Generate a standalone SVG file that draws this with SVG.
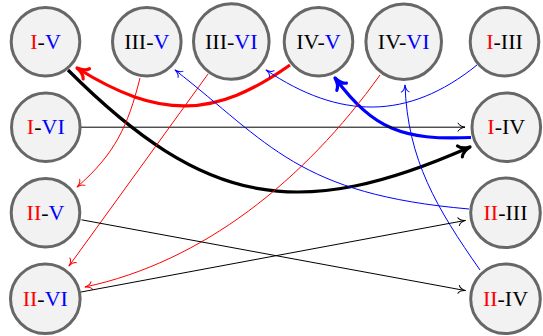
<svg xmlns="http://www.w3.org/2000/svg" width="543" height="336" viewBox="0 0 543 336">
<style>
.node circle{fill:#f2f2f2;stroke:#676767;stroke-width:3}
.node text{font-family:"Liberation Serif","Times New Roman",serif;font-size:22px;text-anchor:middle;fill:#000}
.r{fill:#ff0000}
.b{fill:#0000ff}
.c{fill:none}
.k1{stroke:#000;stroke-width:1}
.r1{stroke:#ff0000;stroke-width:1}
.b1{stroke:#0000ff;stroke-width:1}
.k3{stroke:#000;stroke-width:3.2}
.r3{stroke:#ff0000;stroke-width:3.2}
.b3{stroke:#0000ff;stroke-width:3.2}
</style>
<defs>
<marker id="ak1" markerUnits="userSpaceOnUse" orient="auto" overflow="visible" refX="0" refY="0" markerWidth="1" markerHeight="1"><path d="M-7,-4 C-6,-1.6 -2.2,-0.3 0,0 C-2.2,0.3 -6,1.6 -7,4" fill="none" stroke="#000" stroke-width="1" stroke-linecap="round" stroke-linejoin="round"/></marker>
<marker id="ar1" markerUnits="userSpaceOnUse" orient="auto" overflow="visible" refX="0" refY="0" markerWidth="1" markerHeight="1"><path d="M-7,-4 C-6,-1.6 -2.2,-0.3 0,0 C-2.2,0.3 -6,1.6 -7,4" fill="none" stroke="#ff0000" stroke-width="1" stroke-linecap="round" stroke-linejoin="round"/></marker>
<marker id="ab1" markerUnits="userSpaceOnUse" orient="auto" overflow="visible" refX="0" refY="0" markerWidth="1" markerHeight="1"><path d="M-7,-4 C-6,-1.6 -2.2,-0.3 0,0 C-2.2,0.3 -6,1.6 -7,4" fill="none" stroke="#0000ff" stroke-width="1" stroke-linecap="round" stroke-linejoin="round"/></marker>
<marker id="ak3" markerUnits="userSpaceOnUse" orient="auto" overflow="visible" refX="0" refY="0" markerWidth="1" markerHeight="1"><path d="M-11,-6 C-9,-2.5 -4,-0.6 0,0 C-4,0.6 -9,2.5 -11,6" fill="none" stroke="#000" stroke-width="3.2" stroke-linecap="round" stroke-linejoin="round"/></marker>
<marker id="ar3" markerUnits="userSpaceOnUse" orient="auto" overflow="visible" refX="0" refY="0" markerWidth="1" markerHeight="1"><path d="M-11,-6 C-9,-2.5 -4,-0.6 0,0 C-4,0.6 -9,2.5 -11,6" fill="none" stroke="#ff0000" stroke-width="3.2" stroke-linecap="round" stroke-linejoin="round"/></marker>
<marker id="ab3" markerUnits="userSpaceOnUse" orient="auto" overflow="visible" refX="0" refY="0" markerWidth="1" markerHeight="1"><path d="M-11,-6 C-9,-2.5 -4,-0.6 0,0 C-4,0.6 -9,2.5 -11,6" fill="none" stroke="#0000ff" stroke-width="3.2" stroke-linecap="round" stroke-linejoin="round"/></marker>
</defs>
<g id="connectors">
<path class="c k3" d="M68,70 C206,208 300,222 470,147" marker-end="url(#ak3)"/>
<path class="c r3" d="M290,65 C215,118 160,120 77,68" marker-end="url(#ar3)"/>
<path class="c b3" d="M471,137.5 C403,140.4 374,130 335,78" marker-end="url(#ab3)"/>
<path class="c k1" d="M81,127.2 L465,127.2" marker-end="url(#ak1)"/>
<path class="c r1" d="M140,78 C127.9,126.5 114.7,154.2 77,187" marker-end="url(#ar1)"/>
<path class="c r1" d="M208,74 L69,266" marker-end="url(#ar1)"/>
<path class="c r1" d="M380,75 C304.3,180.7 202.4,262.1 85,287" marker-end="url(#ar1)"/>
<path class="c b1" d="M477,65 C408,120.8 339.5,119.6 266,70" marker-end="url(#ab1)"/>
<path class="c b1" d="M469,209 C298.6,194.2 269.6,143.9 175,70" marker-end="url(#ab1)"/>
<path class="c b1" d="M480,270 C437,208.6 407.6,160 405,85" marker-end="url(#ab1)"/>
<path class="c k1" d="M81.5,219.8 L465.5,290.6" marker-end="url(#ak1)"/>
<path class="c k1" d="M81,292 L465.5,220.4" marker-end="url(#ak1)"/>
</g>
<g id="node-I-V" class="node"><circle cx="45.5" cy="41.7" r="34.3"/><text x="45.5" y="48.7"><tspan class="r">I</tspan>-<tspan class="b">V</tspan></text></g>
<g id="node-III-V" class="node"><circle cx="146.8" cy="41.7" r="34.3"/><text x="146.8" y="48.7">III-<tspan class="b">V</tspan></text></g>
<g id="node-III-VI" class="node"><circle cx="231.3" cy="41.5" r="37.8"/><text x="231.3" y="48.5">III-<tspan class="b">VI</tspan></text></g>
<g id="node-IV-V" class="node"><circle cx="318.5" cy="41.7" r="34.3"/><text x="318.5" y="48.7">IV-<tspan class="b">V</tspan></text></g>
<g id="node-IV-VI" class="node"><circle cx="403.7" cy="41.7" r="37.8"/><text x="403.7" y="48.7">IV-<tspan class="b">VI</tspan></text></g>
<g id="node-I-III" class="node"><circle cx="504.5" cy="41.7" r="34.3"/><text x="504.5" y="48.7"><tspan class="r">I</tspan>-III</text></g>
<g id="node-I-VI" class="node"><circle cx="45.8" cy="127.2" r="34.3"/><text x="45.8" y="134.2"><tspan class="r">I</tspan>-<tspan class="b">VI</tspan></text></g>
<g id="node-II-V" class="node"><circle cx="45.5" cy="212.8" r="34.3"/><text x="45.5" y="219.8"><tspan class="r">II</tspan>-<tspan class="b">V</tspan></text></g>
<g id="node-II-VI" class="node"><circle cx="45.3" cy="298.8" r="34.8"/><text x="45.3" y="305.8"><tspan class="r">II</tspan>-<tspan class="b">VI</tspan></text></g>
<g id="node-I-IV" class="node"><circle cx="506.3" cy="127.2" r="34.3"/><text x="506.3" y="134.2"><tspan class="r">I</tspan>-IV</text></g>
<g id="node-II-III" class="node"><circle cx="505.5" cy="212.8" r="34.8"/><text x="505.5" y="219.8"><tspan class="r">II</tspan>-III</text></g>
<g id="node-II-IV" class="node"><circle cx="505.5" cy="298.8" r="34.8"/><text x="505.5" y="305.8"><tspan class="r">II</tspan>-IV</text></g>
</svg>
